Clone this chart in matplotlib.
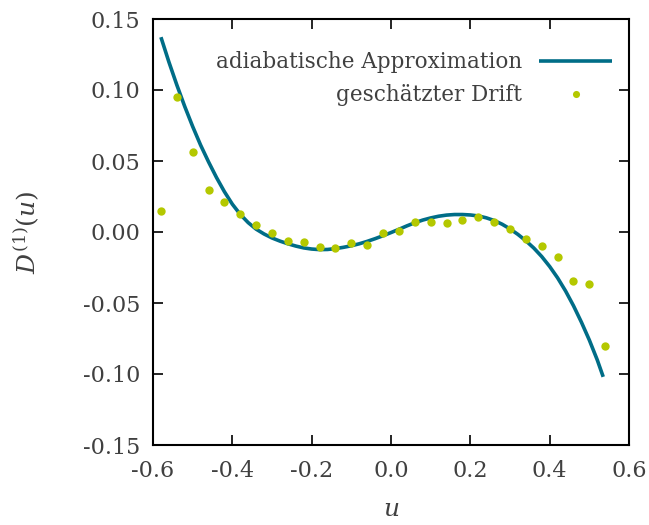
import matplotlib
matplotlib.use("Agg")
import matplotlib.pyplot as plt

# adiabatic approximation curve
curve_u = [-0.58, -0.56, -0.54, -0.52, -0.50, -0.48, -0.46, -0.44, -0.42, -0.40,
           -0.38, -0.36, -0.34, -0.32, -0.30, -0.28, -0.26, -0.24, -0.22, -0.20,
           -0.18, -0.16, -0.14, -0.12, -0.10, -0.08, -0.06, -0.04, -0.02, 0.00,
           0.02, 0.04, 0.06, 0.08, 0.10, 0.12, 0.14, 0.16, 0.18, 0.20,
           0.22, 0.24, 0.26, 0.28, 0.30, 0.32, 0.34, 0.36, 0.38, 0.40,
           0.42, 0.44, 0.46, 0.48, 0.50, 0.52, 0.535]
curve_d = [0.1372, 0.1198, 0.1036, 0.0884, 0.0743, 0.0612, 0.0494, 0.0384, 0.0284, 0.0196,
           0.0124, 0.0066, 0.0020, -0.0014, -0.0042, -0.0064, -0.0083, -0.0099, -0.0112, -0.0120,
           -0.0124, -0.0123, -0.0117, -0.0108, -0.0097, -0.0083, -0.0066, -0.0047, -0.0026, -0.0004,
           0.0019, 0.0043, 0.0065, 0.0084, 0.0099, 0.0111, 0.0119, 0.0123, 0.0123, 0.0120,
           0.0113, 0.0100, 0.0081, 0.0055, 0.0022, -0.0017, -0.0062, -0.0113, -0.0173, -0.0243,
           -0.0323, -0.0415, -0.0519, -0.0635, -0.0761, -0.0901, -0.1020]

# estimated drift points
drift_u = [-0.58, -0.54, -0.50, -0.46, -0.42, -0.38, -0.34, -0.30, -0.26, -0.22,
           -0.18, -0.14, -0.10, -0.06, -0.02, 0.02, 0.06, 0.10, 0.14, 0.18,
           0.22, 0.26, 0.30, 0.34, 0.38, 0.42, 0.46, 0.50, 0.54]
drift_d = [0.0150, 0.0953, 0.0562, 0.0297, 0.0212, 0.0129, 0.0047, -0.0010, -0.0064, -0.0068,
           -0.0106, -0.0116, -0.0076, -0.0094, -0.0007, 0.0005, 0.0073, 0.0073, 0.0066, 0.0082,
           0.0108, 0.0073, 0.0018, -0.0052, -0.0102, -0.0179, -0.0346, -0.0367, -0.0803]

xticks = [-0.6, -0.4, -0.2, 0.0, 0.2, 0.4, 0.6]
yticks = [-0.15, -0.10, -0.05, 0.00, 0.05, 0.10, 0.15]

plt.rcParams['font.family'] = ['DejaVu Serif']
plt.rcParams['mathtext.fontset'] = 'dejavuserif'
plt.rcParams['axes.unicode_minus'] = False

txt = '#404040'
fig = plt.figure(figsize=(6.49, 5.25), dpi=100)
ax = fig.add_axes([153/649, 1-445/525, (629-153)/649, (445-19)/525])

ax.plot(curve_u, curve_d, color='#006d87', lw=2.6, label='adiabatische Approximation',
        solid_capstyle='butt', solid_joinstyle='round', zorder=2)
ax.plot(drift_u, drift_d, ls='none', marker='o', ms=6, color='#b4c800', mec='none',
        label='geschätzter Drift', zorder=3)

ax.set_xlim(-0.6, 0.6)
ax.set_ylim(-0.15, 0.15)
ax.set_xticks(xticks)
ax.set_yticks(yticks)
ax.set_xticklabels([f"{v:.1f}" for v in xticks])
ax.set_yticklabels([f"{v:.2f}" for v in yticks])
ax.tick_params(direction='in', length=7, width=1.2, top=True, right=True,
               labelsize=16, labelcolor=txt)
ax.tick_params(axis='x', pad=11)
ax.tick_params(axis='y', pad=9)
for s in ax.spines.values():
    s.set_linewidth(1.5)

ax.set_xlabel('$u$', fontsize=18, color=txt, labelpad=11)
ax.set_ylabel('$D^{(1)}(u)$', fontsize=18, color=txt)
ax.yaxis.set_label_coords(-0.235, 0.5)

leg = ax.legend(loc='upper right', bbox_to_anchor=(0.983, 0.944), borderaxespad=0,
                frameon=False, markerfirst=False, fontsize=15.5,
                handlelength=3.4, handletextpad=0.8, labelspacing=0.5,
                markerscale=0.85, labelcolor=txt)

fig.savefig('out.png', dpi=100)
